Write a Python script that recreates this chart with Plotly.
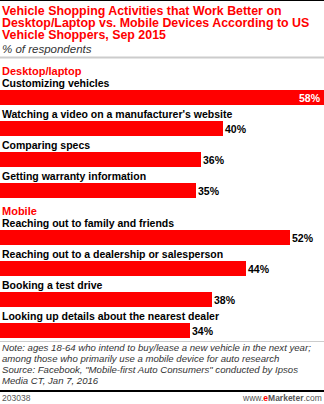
import plotly.graph_objects as go

# ---- data ----
groups = ["Desktop/laptop", "Mobile"]
categories = [
    "Customizing vehicles",
    "Watching a video on a manufacturer's website",
    "Comparing specs",
    "Getting warranty information",
    "Reaching out to family and friends",
    "Reaching out to a dealership or salesperson",
    "Booking a test drive",
    "Looking up details about the nearest dealer",
]
category_group = [0, 0, 0, 0, 1, 1, 1, 1]
values = [58, 40, 36, 35, 52, 44, 38, 34]

title_lines = [
    "Vehicle Shopping Activities that Work Better on",
    "Desktop/Laptop vs. Mobile Devices According to US",
    "Vehicle Shoppers, Sep 2015",
]
subtitle = "% of respondents"
note_lines = [
    "Note: ages 18-64 who intend to buy/lease a new vehicle in the next year;",
    "among those who primarily use a mobile device for auto research",
    "Source: Facebook, \"Mobile-first Auto Consumers\" conducted by Ipsos",
    "Media CT, Jan 7, 2016",
]
chart_id = "203038"

# ---- layout constants (pixel units) ----
W, H = 324, 404
RED = "#ff0000"
FONT = "Liberation Sans, Arial, sans-serif"
bar_top0 = 90
step = 31
group_gap = 16
bar_h = 15

tops = [bar_top0 + i * step + category_group[i] * group_gap for i in range(len(values))]
centers = [t + bar_h / 2 for t in tops]

fig = go.Figure()
fig.add_trace(go.Bar(
    x=values, y=centers, orientation="h", width=bar_h,
    marker=dict(color=RED, line=dict(width=0)),
    hoverinfo="skip",
))

ann = []
# titles
for k, line in enumerate(title_lines):
    ann.append(dict(x=0, xref="paper", y=10.5 + 12.2 * k, yref="y", text="<b>" + line + "</b>",
                    showarrow=False, xanchor="left", yanchor="middle",
                    font=dict(family=FONT, size=12.4, color=RED)))
ann.append(dict(x=0, xref="paper", y=48.5, yref="y", text="<i>" + subtitle + "</i>",
                showarrow=False, xanchor="left", yanchor="middle",
                font=dict(family=FONT, size=11.5, color="#333")))

# group headers
for g, name in enumerate(groups):
    first = category_group.index(g)
    ann.append(dict(x=0, xref="paper", y=tops[first] - 19, yref="y", text="<b>" + name + "</b>",
                    showarrow=False, xanchor="left", yanchor="middle",
                    font=dict(family=FONT, size=11, color=RED)))

vmax = max(values)
for i, (c, v) in enumerate(zip(categories, values)):
    ann.append(dict(x=0, xref="paper", y=tops[i] - 7, yref="y", text="<b>" + c + "</b>",
                    showarrow=False, xanchor="left", yanchor="middle",
                    font=dict(family=FONT, size=10.5, color="#000")))
    if v == vmax:
        ann.append(dict(x=v, xref="x", y=centers[i], yref="y", text="<b>%d%%</b>" % v,
                        showarrow=False, xanchor="right", yanchor="middle", xshift=-1,
                        font=dict(family=FONT, size=10.5, color="#fff")))
    else:
        ann.append(dict(x=v, xref="x", y=centers[i], yref="y", text="<b>%d%%</b>" % v,
                        showarrow=False, xanchor="left", yanchor="middle", xshift=0,
                        font=dict(family=FONT, size=10.5, color="#000")))

# notes
for k, line in enumerate(note_lines):
    ann.append(dict(x=0, xref="paper", y=347 + 11.3 * k, yref="y", text="<i>" + line + "</i>",
                    showarrow=False, xanchor="left", yanchor="middle",
                    font=dict(family=FONT, size=9.6, color="#333")))
ann.append(dict(x=0, xref="paper", y=398, yref="y", text=chart_id,
                showarrow=False, xanchor="left", yanchor="middle",
                font=dict(family=FONT, size=8.5, color="#555")))
ann.append(dict(x=1, xref="paper", y=398, yref="y",
                text="www.<b><span style='color:#ff0000'>e</span>Marketer</b>.com",
                showarrow=False, xanchor="right", yanchor="middle",
                font=dict(family=FONT, size=8.5, color="#555")))

shapes = [
    dict(type="line", xref="paper", yref="y", x0=0, x1=1, y0=0.5, y1=0.5,
         line=dict(color="#000", width=1)),
    dict(type="line", xref="paper", yref="y", x0=0, x1=1, y0=57.5, y1=57.5,
         line=dict(color="#cccccc", width=2)),
    dict(type="line", xref="paper", yref="y", x0=0, x1=1, y0=341.5, y1=341.5,
         line=dict(color="#cccccc", width=1)),
    dict(type="line", xref="paper", yref="y", x0=0, x1=1, y0=391, y1=391,
         line=dict(color="#000", width=2)),
]

fig.update_layout(
    width=W, height=H,
    margin=dict(l=0, r=0, t=0, b=0),
    paper_bgcolor="#fff", plot_bgcolor="#fff",
    showlegend=False,
    xaxis=dict(range=[0, vmax], domain=[0, 1], visible=False, fixedrange=True),
    yaxis=dict(range=[H, 0], domain=[0, 1], visible=False, fixedrange=True),
    annotations=ann, shapes=shapes,
    bargap=0,
)

fig.write_html("out.html", config={"displayModeBar": False})
